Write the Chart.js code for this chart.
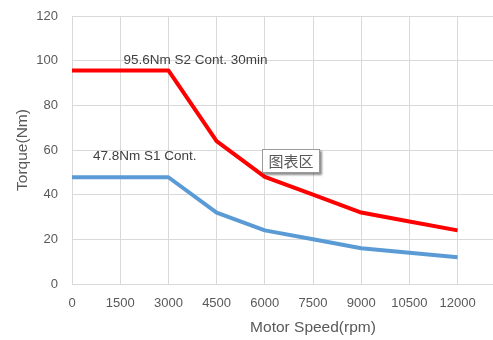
<!DOCTYPE html>
<html>
<head>
<meta charset="utf-8">
<script src="https://cdn.jsdelivr.net/npm/chart.js@4/dist/chart.umd.min.js"></script>
<style>
  html, body { margin: 0; padding: 0; background: #ffffff; overflow: hidden; width: 493px; height: 340px; }
  #wrap { position: relative; width: 493px; height: 340px; overflow: hidden; }
  #c { position: absolute; left: 0; top: 0; }
  #tip {
    position: absolute; left: 262px; top: 149px; width: 56px; height: 22px;
    border: 1px solid #9a9a9a; background: #ffffff;
    box-shadow: 2px 2px 2px rgba(0,0,0,0.45);
    font: 15px "Noto Sans CJK SC", sans-serif; color: #595959;
    line-height: 22px; text-align: center; box-sizing: content-box;
  }
</style>
</head>
<body>
<div id="wrap">
  <canvas id="c" width="580" height="340"></canvas>
  <div id="tip">图表区</div>
</div>
<script>
// ---- data ----
const speeds = [0, 3000, 4500, 6000, 7500, 9000, 10500, 12000];
const torqueS2 = [95.6, 95.6, 64, 48, 40, 32, 28, 24];
const torqueS1 = [47.8, 47.8, 32, 24, 20, 16, 14, 12];
const xTickLabels = ['0', '1500', '3000', '4500', '6000', '7500', '9000', '10500', '12000'];
const yTickLabels = ['0', '20', '40', '60', '80', '100', '120'];
const labelTexts = ['95.6Nm S2 Cont. 30min', '47.8Nm S1 Cont.'];
const labelX = [1600, 650];
const labelY = [100, 57];

const toPts = (xs, ys) => xs.map((x, i) => ({ x: x, y: ys[i] }));

const textLabels = {
  id: 'textLabels',
  afterDatasetsDraw(chart) {
    const { ctx, scales: { x, y } } = chart;
    ctx.save();
    ctx.font = '13.5px "Liberation Sans", Arial, sans-serif';
    ctx.fillStyle = '#404040';
    ctx.textAlign = 'left';
    ctx.textBaseline = 'middle';
    labelTexts.forEach((t, i) => {
      ctx.fillText(t, x.getPixelForValue(labelX[i]), y.getPixelForValue(labelY[i]));
    });
    ctx.restore();
  }
};

const gridColor = '#d9d9d9';
const tickColor = '#595959';

new Chart(document.getElementById('c'), {
  type: 'line',
  data: {
    datasets: [
      {
        data: toPts(speeds, torqueS2),
        borderColor: '#ff0000',
        borderWidth: 4,
        pointRadius: 0,
        tension: 0,
        borderJoinStyle: 'round',
        fill: false
      },
      {
        data: toPts(speeds, torqueS1),
        borderColor: '#5b9bd5',
        borderWidth: 4,
        pointRadius: 0,
        tension: 0,
        borderJoinStyle: 'round',
        fill: false
      }
    ]
  },
  options: {
    responsive: false,
    animation: false,
    devicePixelRatio: 1,
    layout: { padding: { top: 16, right: 26, left: 0, bottom: 0 } },
    plugins: { legend: { display: false }, tooltip: { enabled: false } },
    scales: {
      x: {
        type: 'linear',
        min: 0,
        max: 15000,
        afterFit(s) { s.height = 56; },
        afterBuildTicks(s) {
          s.ticks = [];
          for (let v = 0; v <= 15000; v += 1500) s.ticks.push({ value: v });
        },
        ticks: {
          color: tickColor,
          font: { family: '"Liberation Sans", Arial, sans-serif', size: 13 },
          padding: 12,
          maxRotation: 0,
          autoSkip: false,
          callback: (v) => { const i = Math.round(v / 1500); return i < xTickLabels.length ? xTickLabels[i] : ''; }
        },
        grid: { color: gridColor, drawTicks: false, lineWidth: 1 },
        border: { color: gridColor },
        title: {
          display: true,
          text: 'Motor Speed(rpm)',
          color: tickColor,
          font: { family: '"Liberation Sans", Arial, sans-serif', size: 15.5 },
          padding: { top: 0, bottom: 3 }
        }
      },
      y: {
        type: 'linear',
        min: 0,
        max: 120,
        afterFit(s) { s.width = 72; s.paddingTop = 0; s.paddingBottom = 0; },
        ticks: {
          stepSize: 20,
          color: tickColor,
          font: { family: '"Liberation Sans", Arial, sans-serif', size: 13 },
          padding: 14,
          callback: (v) => yTickLabels[Math.round(v / 20)]
        },
        grid: { color: gridColor, drawTicks: false, lineWidth: 1 },
        border: { color: gridColor },
        title: {
          display: true,
          text: 'Torque(Nm)',
          color: tickColor,
          font: { family: '"Liberation Sans", Arial, sans-serif', size: 15.5 },
          padding: { top: 13, bottom: 0 }
        }
      }
    }
  },
  plugins: [textLabels]
});
</script>
</body>
</html>
